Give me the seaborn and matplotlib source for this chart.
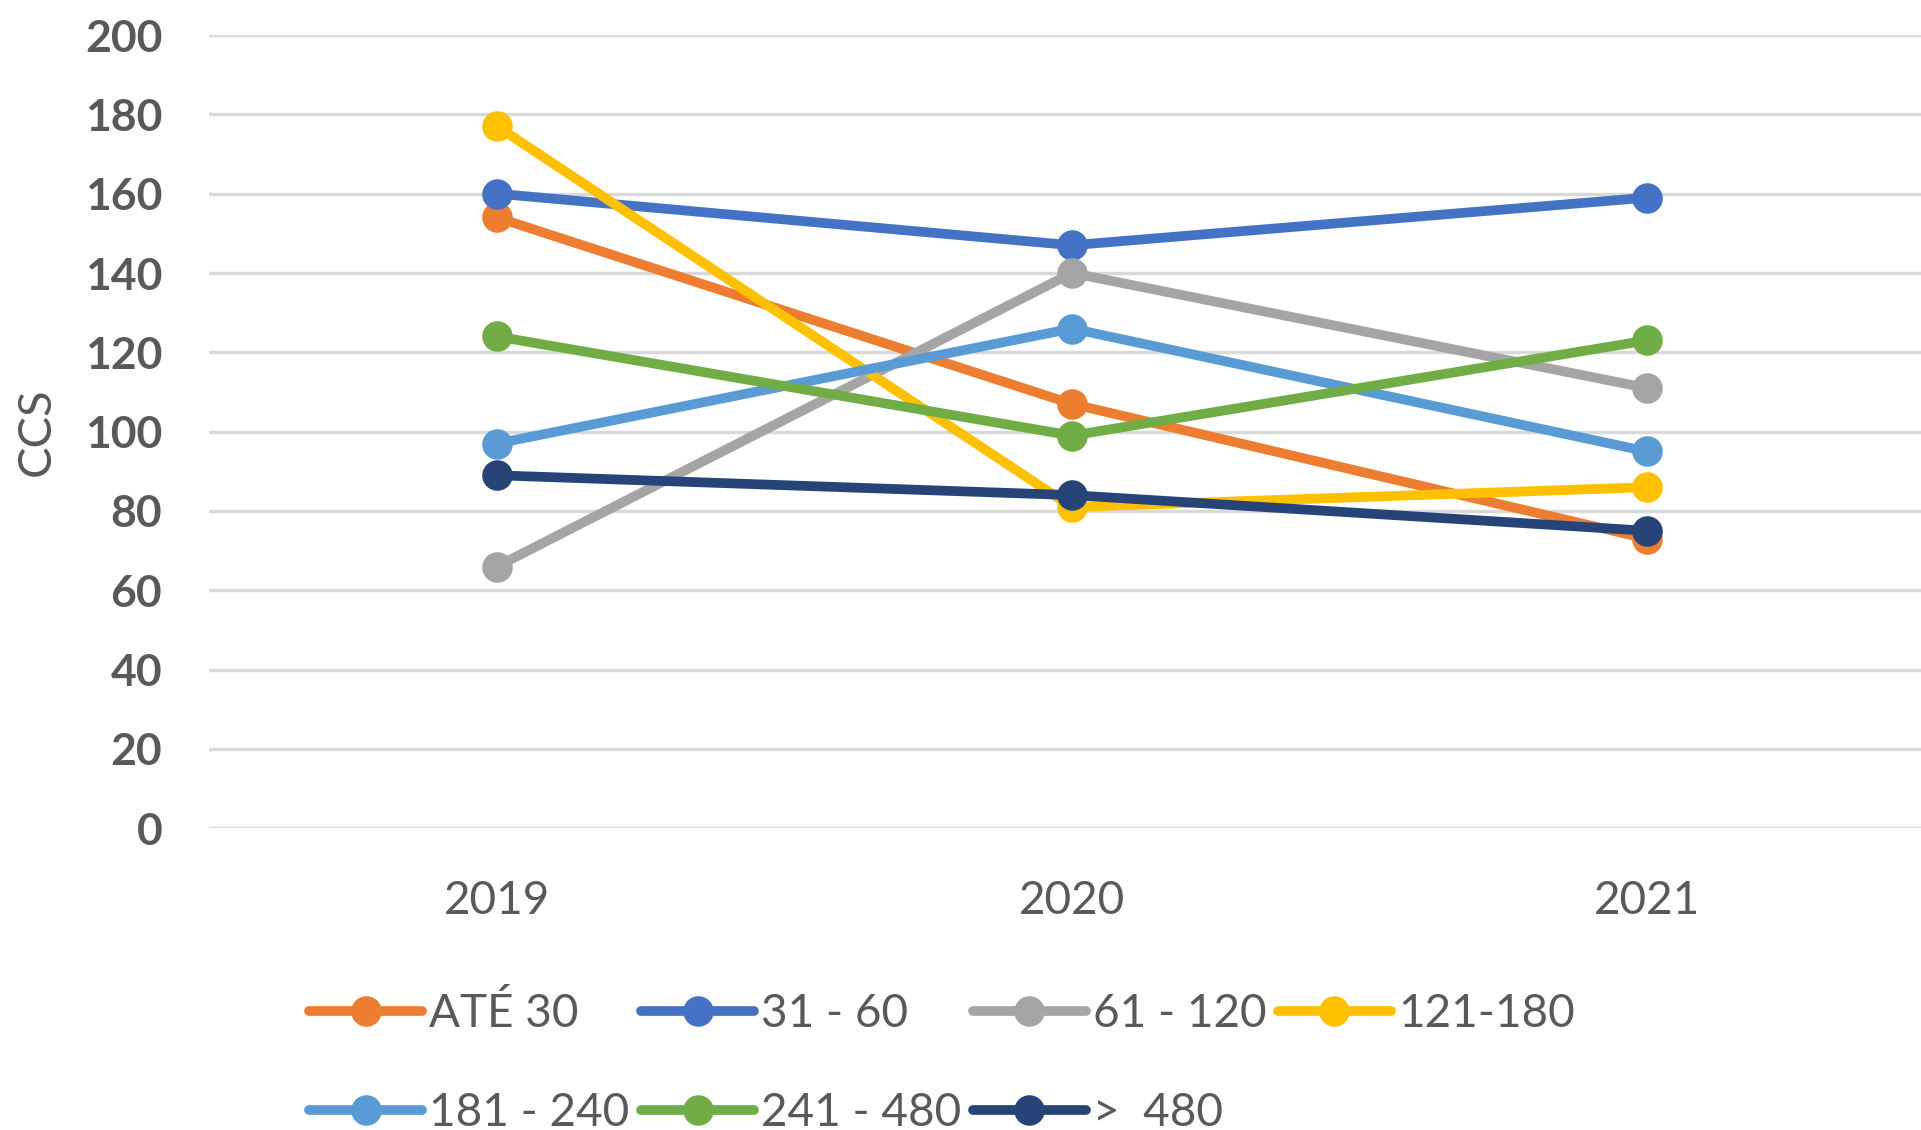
import seaborn as sns
import pandas as pd
import matplotlib.pyplot as plt

# dados
anos = ['2019', '2020', '2021']
series = ['ATÉ 30', '31 - 60', '61 - 120', '121-180', '181 - 240', '241 - 480', '>  480']
ate_30 = [154, 107, 73]
de_31_60 = [160, 147, 159]
de_61_120 = [66, 140, 111]
de_121_180 = [177, 81, 86]
de_181_240 = [97, 126, 95]
de_241_480 = [124, 99, 123]
mais_480 = [89, 84, 75]
cores = ['#ED7D31', '#4472C4', '#A5A5A5', '#FFC000', '#5B9BD5', '#70AD47', '#264478']

valores = [ate_30, de_31_60, de_61_120, de_121_180, de_181_240, de_241_480, mais_480]
linhas = []
for nome, vals in zip(series, valores):
    for ano, v in zip(anos, vals):
        linhas.append({'ano': ano, 'CCS': v, 'faixa': nome})
df = pd.DataFrame(linhas)

sns.set_style('white')
plt.rcParams['font.family'] = ['Lato', 'DejaVu Sans']

fig = plt.figure(figsize=(19.21, 11.30), dpi=100)
# o eixo passa um pouco da borda direita, como no original
ax = fig.add_axes([0.109, 0.267, 0.898, 0.702])

sns.lineplot(data=df, x='ano', y='CCS', hue='faixa', hue_order=series,
             palette=cores, marker='o', markersize=22, markeredgewidth=0,
             linewidth=7, sort=False, legend=False, ax=ax)

ax.set_xlim(-0.5, 2.5)
ax.set_ylim(0, 200)
ax.set_yticks(range(0, 201, 20))
ax.yaxis.grid(True, color='#D9D9D9', linewidth=2.5)
ax.set_axisbelow(True)
for s in ax.spines.values():
    s.set_visible(False)
ax.tick_params(axis='y', length=0, pad=34, labelsize=32, labelcolor='#595959')
ax.tick_params(axis='x', length=0, pad=37, labelsize=33, labelcolor='#595959')
for t in ax.get_yticklabels():
    t.set_fontweight('bold')
ax.set_xlabel('')
ax.set_ylabel('CCS', fontsize=34, color='#595959')
ax.yaxis.set_label_coords(-0.088, 0.5)

# legenda em linhas (ordem como no Excel)
handles = list(ax.lines[:len(series)])
ordem = [0, 4, 1, 5, 2, 6, 3]
fig.legend([handles[i] for i in ordem], [series[i] for i in ordem],
           loc='upper left', bbox_to_anchor=(0.149, 0.142), ncol=4,
           frameon=False, fontsize=33, handlelength=2.47, handletextpad=0.15,
           columnspacing=0.25, labelspacing=1.23, borderpad=0,
           labelcolor='#595959')

fig.savefig('out.png', dpi=100)
